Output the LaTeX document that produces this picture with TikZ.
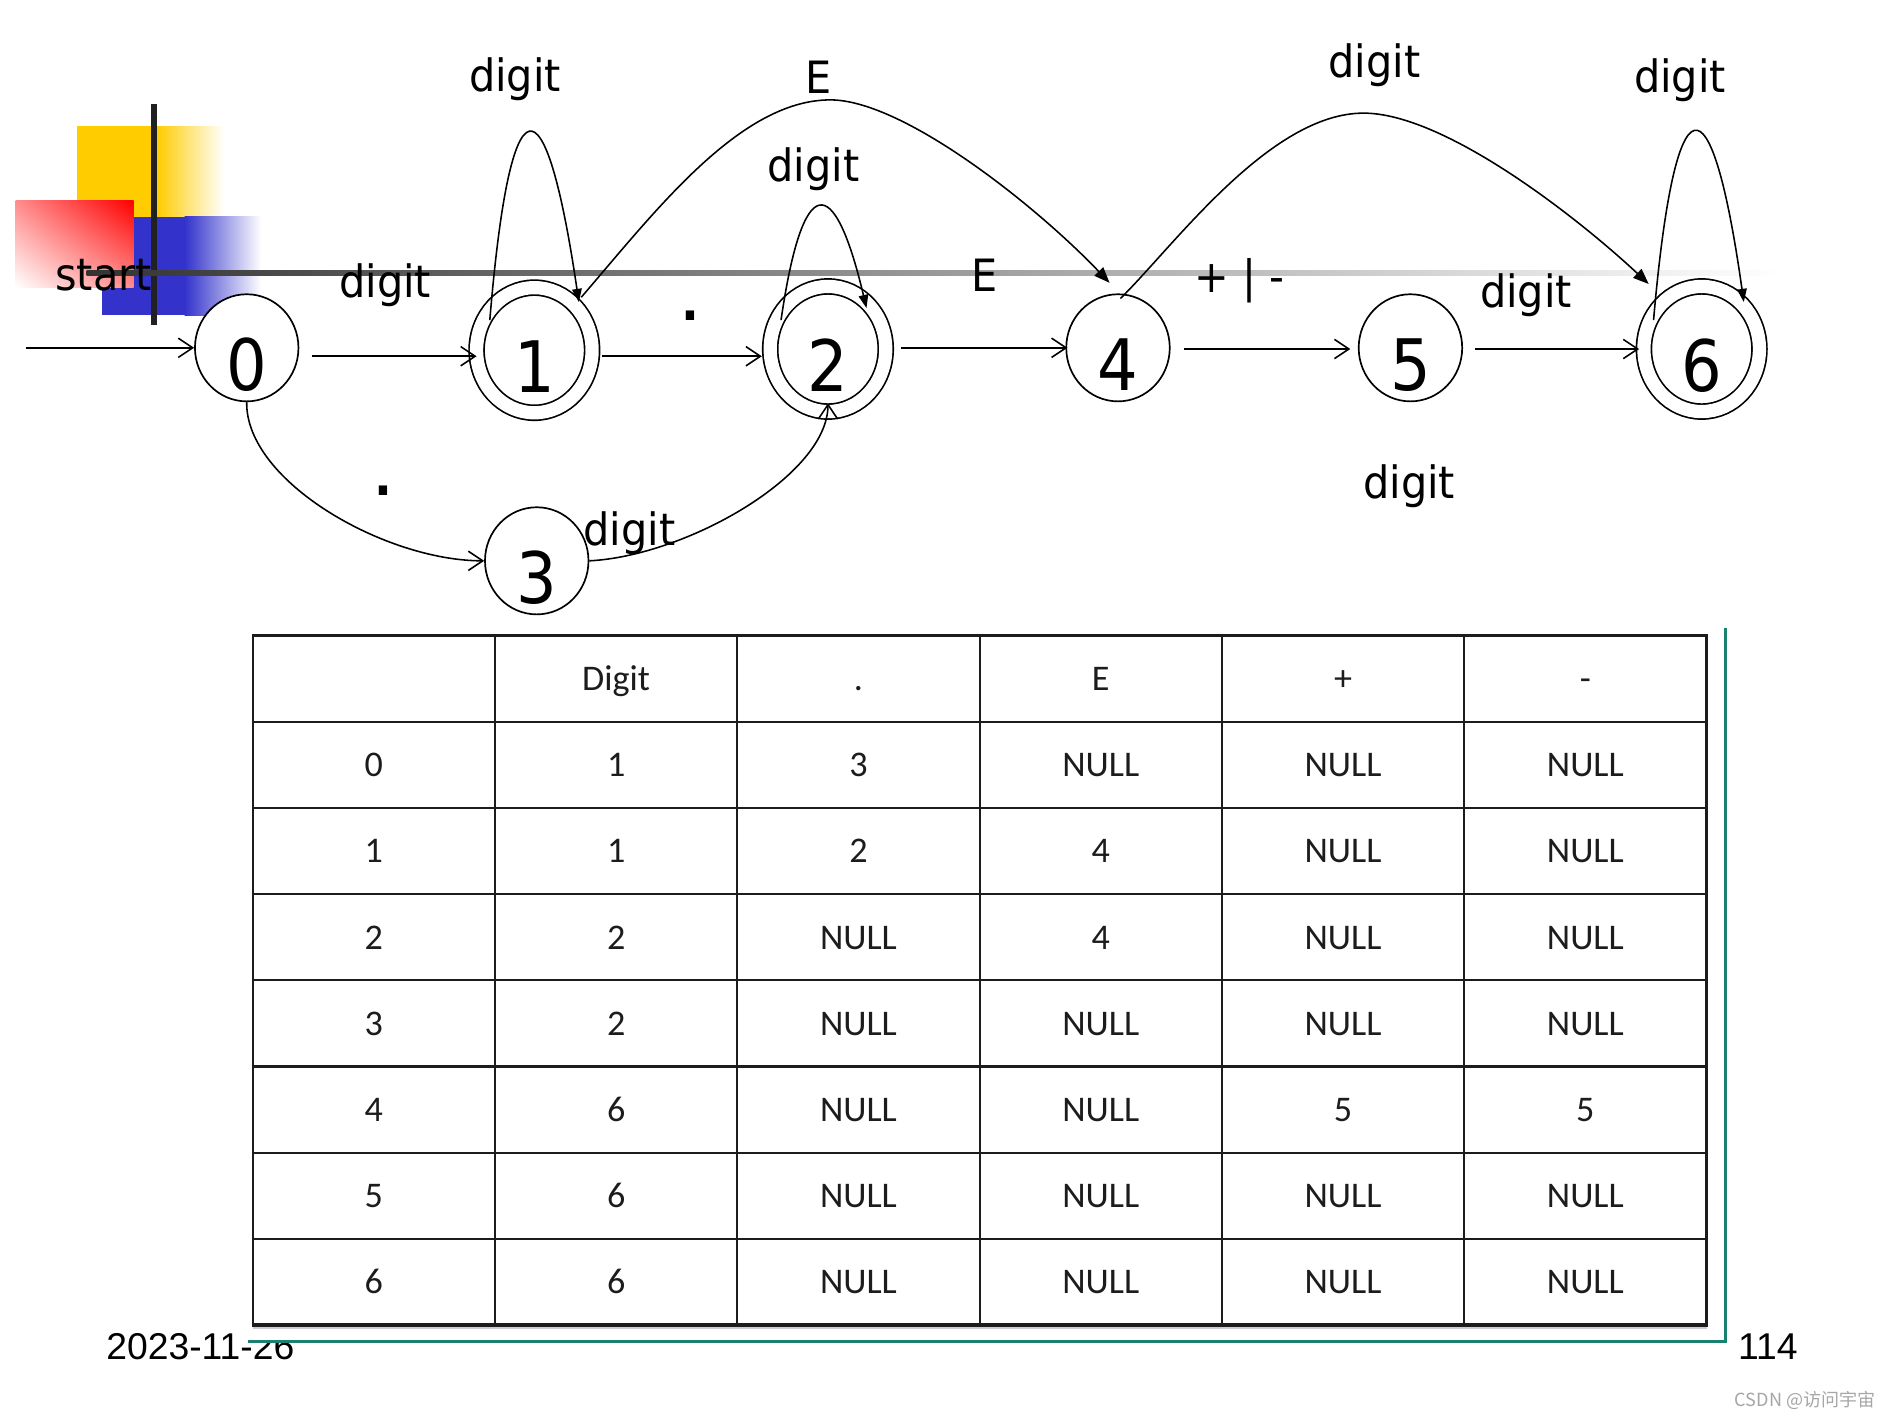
\documentclass[tikz,border=0pt]{standalone}
\usepackage{fontspec}
\setmainfont{DejaVu Sans}
\newfontfamily\lblfont[FakeStretch=0.93]{DejaVu Sans}
\newfontfamily\numfont[FakeStretch=0.9]{DejaVu Sans}
\newfontfamily\tabfont{Carlito}
\newfontfamily\footfont{Liberation Sans}
\newfontfamily\cjkfont{Noto Sans CJK SC}
\usetikzlibrary{shapes.geometric,arrows.meta,shadings}
\definecolor{yel}{HTML}{FFCC00}
\definecolor{blu}{HTML}{3333CC}
\definecolor{grn}{HTML}{1A8070}
\definecolor{ink}{HTML}{1C1C1C}
\begin{document}
\begin{tikzpicture}[x=1pt,y=-1pt,
  state/.style={ellipse, draw, line width=1.4pt, fill=white, inner sep=0pt,
    minimum width=86pt, minimum height=89pt, text height=0pt, text depth=0pt,
    font=\numfont\fontsize{59}{60}\selectfont},
  accstate/.style={state, double, double distance=11pt, minimum width=96pt, minimum height=104pt},
  lbl/.style={inner sep=0pt, font=\lblfont\fontsize{37}{40}\selectfont},
  dotlbl/.style={inner sep=0pt, font=\lblfont\bfseries\fontsize{42}{44}\selectfont},
  oarr/.style={line width=1.3pt, -{Straight Barb[length=12pt,width=16pt]}},
  farr/.style={line width=1.3pt, -{Triangle[length=13pt,width=10pt]}},
  larr/.style={line width=1.3pt, -{Triangle[length=11pt,width=8pt]}},
  tcell/.style={inner sep=0pt, anchor=base, text=ink, font=\tabfont\fontsize{30}{32}\selectfont},
  tgrid/.style={line width=1.8pt, draw=ink}
]
\useasboundingbox (0,0) rectangle (1568,1179);
\fill[white] (0,0) rectangle (1568,1179);

% decoration squares
\fill[yel] (64,105) rectangle (131,180);
\shade[left color=yel, right color=white] (130.5,105) rectangle (186,180);
\fill[blu] (85,180) rectangle (154,262);
\shade[left color=blu, right color=white] (153.5,180) rectangle (217,262);
\shade[upper left=red!45, upper right=red, lower left=white, lower right=red!45] (13,167) rectangle (111,239);
\fill[black!87] (125.5,86) rectangle (130.5,270);
\shade[left color=black!80, right color=white] (72,224.75) rectangle (1480,229.25);

\node[lbl] (startlbl) at (86,229) {start};

% states
\node[state] (n0) at (205,289) {\raisebox{-35.5pt}{0}};
\node[accstate] (n1) at (444,291) {\raisebox{-35.5pt}{1}};
\node[accstate] (n2) at (688,290) {\raisebox{-35.5pt}{2}};
\node[state] (n3) at (446,466) {\raisebox{-35.5pt}{3}};
\node[state] (n4) at (929,289) {\raisebox{-35.5pt}{4}};
\node[state] (n5) at (1172,289) {\raisebox{-35.5pt}{5}};
\node[accstate] (n6) at (1414,290) {\raisebox{-35.5pt}{6}};

% straight transitions
\coordinate (s0) at (22,289);
\draw[oarr] (s0) -- (n0.west);
\draw[oarr] ([shift={(54,7)}]n0.center) -- ([shift={(-48,5)}]n1.center);
\draw[oarr] ([shift={(56,5)}]n1.center) -- ([shift={(-55,6)}]n2.center);
\draw[oarr] ([shift={(61,-1)}]n2.center) -- ([shift={(-42,0)}]n4.center);
\draw[oarr] ([shift={(55,1)}]n4.center) -- ([shift={(-50,1)}]n5.center);
\draw[oarr] ([shift={(54,1)}]n5.center) -- ([shift={(-52,0)}]n6.center);

% curved transitions
\draw[oarr] (n0.south) .. controls (204,400) and (320,466) .. (n3.west);
\draw[oarr] (n3.east) .. controls (570,462) and (688,395) .. ([shift={(0,45)}]n2.center);
\draw[farr] ([shift={(39,-44)}]n1.center) .. controls (545,175) and (615,83) .. (690,83)
   .. controls (750,83) and (860,170) .. ([shift={(-7,-54)}]n4.center);
\draw[farr] ([shift={(2,-41)}]n4.center) .. controls (975,205) and (1055,94) .. (1133,94)
   .. controls (1200,94) and (1310,180) .. ([shift={(-44,-54)}]n6.center);

% loops
\draw[larr] ([shift={(-37,-25)}]n1.center) .. controls (424,61) and (453,61) .. ([shift={(37,-40)}]n1.center);
\draw[larr] ([shift={(-39,-24)}]n2.center) .. controls (667,142) and (693,142) .. ([shift={(32,-34)}]n2.center);
\draw[larr] ([shift={(-40,-24)}]n6.center) .. controls (1392,60) and (1422,60) .. ([shift={(35,-39)}]n6.center);

% labels
\node[lbl] (l11) at (428,66) {digit};
\node[lbl] (l14) at (680,64) {E};
\node[lbl] (l22) at (676,141) {digit};
\node[dotlbl] (l12) at (574,262) {.};
\node[lbl] (l24) at (818,229) {E};
\node[lbl, anchor=base] (l45) at (1030,243) {+ | -};
\node[lbl] (l46) at (1142,54) {digit};
\node[lbl] (l66) at (1396,67) {digit};
\node[lbl] (l56) at (1268,245) {digit};
\node[lbl] (l5b) at (1171,404) {digit};
\node[dotlbl] (l03) at (319,408) {.};
\node[lbl] (l32) at (523,443) {digit};
\node[lbl] (l01) at (320,237) {digit};

% footer date (partly hidden by the content box)
\node[inner sep=0pt, anchor=base, font=\footfont\fontsize{31}{32}\selectfont] (date) at (166.5,1130) {2023-11-26};
\fill[white] (206,522) rectangle (1434,1113.5);

% table
\foreach \row [count=\k from 0] in {{{},Digit,.,E,+,-},
  {0,1,3,NULL,NULL,NULL},
  {1,1,2,4,NULL,NULL},
  {2,2,NULL,4,NULL,NULL},
  {3,2,NULL,NULL,NULL,NULL},
  {4,6,NULL,NULL,5,5},
  {5,6,NULL,NULL,NULL,NULL},
  {6,6,NULL,NULL,NULL,NULL}} {
  \foreach \v [count=\c from 0] in \row {
    \node[tcell] (t-\k-\c) at ({210+(\c+0.5)*201.333},{528+(\k+0.5)*71.625+10}) {\v};
  }
}
\foreach \i in {0,...,6} \draw[tgrid] ({210+\i*201.333},528) -- ({210+\i*201.333},1102);
\foreach \j in {0,...,7} \draw[tgrid] (209.1,{528+\j*71.625}) -- (1418.9,{528+\j*71.625});
\draw[line width=3pt, draw=ink] (209,1101) -- (1419,1101);
\draw[line width=1.5pt, draw=black!20] (210,1103.8) -- (1418,1103.8);

% green frame
\draw[grn, line width=2.5pt] (206,1115) -- (1434,1115) -- (1434,522);

\node[inner sep=0pt, anchor=base, font=\footfont\fontsize{31}{32}\selectfont] (page) at (1469,1130) {114};
\node[inner sep=0pt, text=black!35, font=\cjkfont\fontsize{15}{15}\selectfont] (wm) at (1500,1164) {CSDN @访问宇宙};
\end{tikzpicture}
\end{document}
